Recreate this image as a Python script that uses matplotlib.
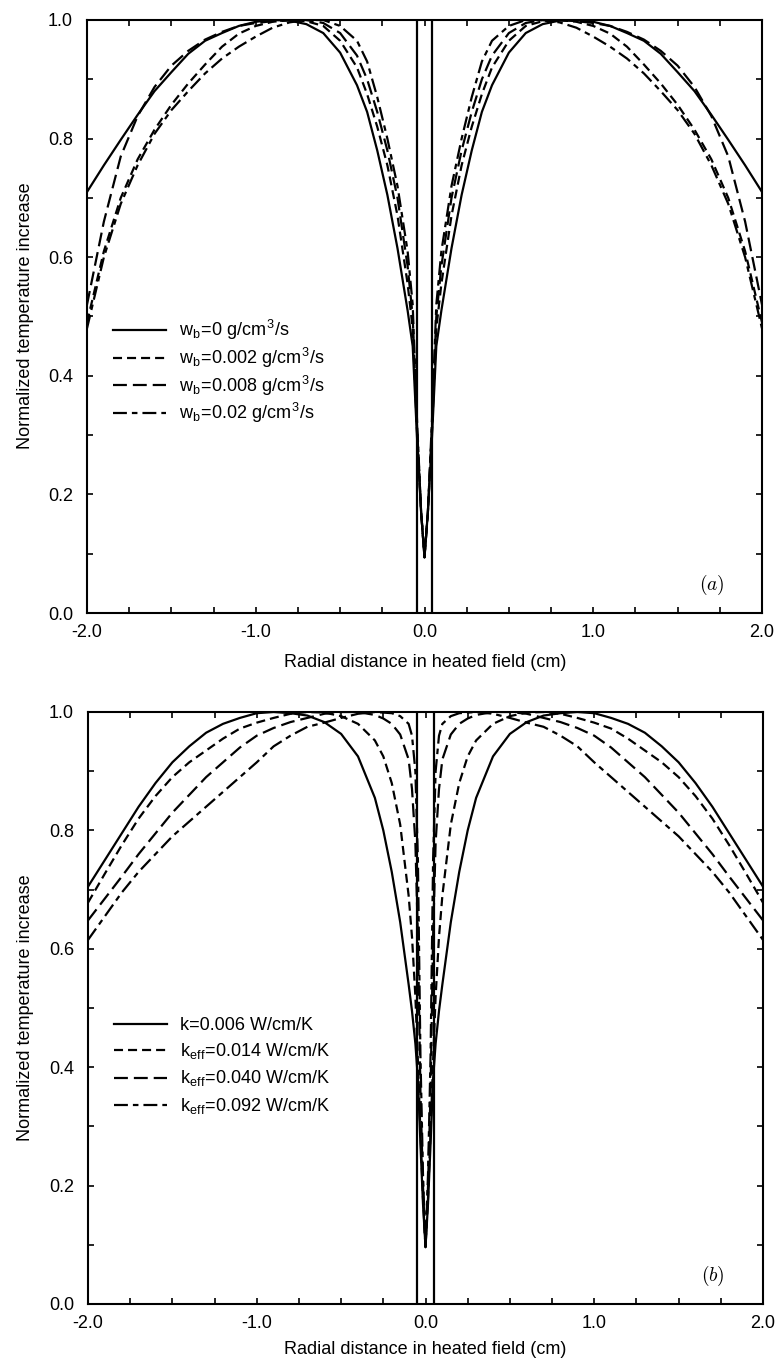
import numpy as np
import matplotlib
matplotlib.use("Agg")
import matplotlib.pyplot as plt
from matplotlib.ticker import MultipleLocator, FixedLocator

plt.rcParams['font.family'] = ['Liberation Sans', 'DejaVu Sans']
plt.rcParams['mathtext.fontset'] = 'cm'
plt.rcParams['lines.scale_dashes'] = False

# ---------------- data: panel (a), right half (profiles are symmetric) ----------------
x_a = [0.0, 0.02, 0.045, 0.07, 0.1, 0.16, 0.22, 0.28, 0.34, 0.4, 0.5, 0.6, 0.7,
       0.8, 0.9, 1.0, 1.1, 1.2, 1.3, 1.4, 1.5, 1.6, 1.7, 1.8, 1.9, 2.0]
a_w0 = [0.094, 0.17, 0.30, 0.45, 0.51, 0.615, 0.705, 0.78, 0.845, 0.89, 0.945, 0.978, 0.993,
        0.999, 1.0, 0.997, 0.99, 0.978, 0.965, 0.943, 0.912, 0.88, 0.84, 0.798, 0.755, 0.71]
a_w002 = [0.094, 0.17, 0.31, 0.48, 0.555, 0.67, 0.755, 0.82, 0.875, 0.92, 0.965, 0.99, 0.998,
          1.0, 0.997, 0.99, 0.977, 0.955, 0.925, 0.893, 0.857, 0.815, 0.765, 0.70, 0.61, 0.49]
a_w008 = [0.094, 0.17, 0.32, 0.50, 0.585, 0.70, 0.78, 0.845, 0.90, 0.94, 0.978, 0.995, 1.0,
          1.0, 0.998, 0.995, 0.99, 0.98, 0.967, 0.948, 0.923, 0.887, 0.838, 0.77, 0.66, 0.52]
a_w02 = [0.094, 0.17, 0.33, 0.52, 0.61, 0.72, 0.80, 0.87, 0.93, 0.965, 0.99, 1.0, 1.0,
         0.996, 0.987, 0.972, 0.955, 0.935, 0.91, 0.88, 0.848, 0.808, 0.755, 0.69, 0.60, 0.48]
labels_a = [r'w$_\mathregular{b}$=0 g/cm$^\mathregular{3}$/s',
            r'w$_\mathregular{b}$=0.002 g/cm$^\mathregular{3}$/s',
            r'w$_\mathregular{b}$=0.008 g/cm$^\mathregular{3}$/s',
            r'w$_\mathregular{b}$=0.02 g/cm$^\mathregular{3}$/s']
probe_a = 0.045

# ---------------- data: panel (b), right half ----------------
x_b = [0.0, 0.015, 0.03, 0.045, 0.06, 0.08, 0.1, 0.15, 0.2, 0.25, 0.3, 0.4, 0.5, 0.6, 0.7,
       0.8, 0.9, 1.0, 1.1, 1.2, 1.3, 1.4, 1.5, 1.6, 1.7, 1.8, 1.9, 2.0]
b_k006 = [0.096, 0.17, 0.27, 0.38, 0.44, 0.495, 0.54, 0.645, 0.73, 0.80, 0.855, 0.925, 0.963,
          0.983, 0.994, 0.998, 1.0, 0.998, 0.99, 0.98, 0.965, 0.942, 0.915, 0.88, 0.84, 0.795,
          0.75, 0.705]
b_k014 = [0.096, 0.18, 0.29, 0.41, 0.52, 0.62, 0.69, 0.81, 0.88, 0.925, 0.952, 0.98, 0.993,
          0.999, 1.0, 0.997, 0.99, 0.982, 0.972, 0.955, 0.935, 0.915, 0.89, 0.858, 0.82, 0.775,
          0.727, 0.678]
b_k040 = [0.096, 0.2, 0.36, 0.62, 0.78, 0.87, 0.92, 0.962, 0.98, 0.989, 0.995, 1.0, 1.0,
          0.997, 0.99, 0.983, 0.973, 0.96, 0.94, 0.915, 0.89, 0.86, 0.83, 0.795, 0.76, 0.722,
          0.685, 0.648]
b_k092 = [0.096, 0.22, 0.42, 0.75, 0.90, 0.96, 0.98, 0.993, 0.998, 0.999, 1.0, 0.997, 0.99,
          0.982, 0.975, 0.96, 0.942, 0.915, 0.89, 0.865, 0.84, 0.815, 0.79, 0.76, 0.73, 0.695,
          0.655, 0.615]
labels_b = [r'k=0.006 W/cm/K',
            r'k$_\mathregular{eff}$=0.014 W/cm/K',
            r'k$_\mathregular{eff}$=0.040 W/cm/K',
            r'k$_\mathregular{eff}$=0.092 W/cm/K']
probe_b = 0.05

x_ticklabels = ['-2.0', '-1.0', '0.0', '1.0', '2.0']
y_ticklabels = ['0.0', '0.2', '0.4', '0.6', '0.8', '1.0']

styles = ['-', (0, (6.5, 3.6)), (0, (10, 4.3)), (0, (10, 3.6, 4.0, 3.6))]


def full(xh, yh):
    xh = np.asarray(xh); yh = np.asarray(yh)
    return np.r_[-xh[:0:-1], xh], np.r_[yh[:0:-1], yh]


W, H = 780, 1366
fig = plt.figure(figsize=(W / 100, H / 100), dpi=100)
ax1 = fig.add_axes([87 / W, 1 - 613 / H, 675 / W, 593 / H])
ax2 = fig.add_axes([88 / W, 1 - 1304 / H, 675 / W, 592 / H])


def setup(ax, xh, series, labels, probe, tag, leg_y, spacing):
    for ys, ls, lab in zip(series, styles, labels):
        xx, yy = full(xh, ys)
        ax.plot(xx, yy, color='black', lw=1.6, linestyle=ls, label=lab)
    for p in (-probe, probe):
        ax.axvline(p, color='black', lw=1.6)
    ax.set_xlim(-2, 2)
    ax.set_ylim(0, 1)
    ax.xaxis.set_major_locator(FixedLocator([-2, -1, 0, 1, 2]))
    ax.set_xticklabels(x_ticklabels)
    ax.xaxis.set_minor_locator(MultipleLocator(0.25))
    ax.yaxis.set_major_locator(FixedLocator([0, 0.2, 0.4, 0.6, 0.8, 1.0]))
    ax.set_yticklabels(y_ticklabels)
    ax.yaxis.set_minor_locator(MultipleLocator(0.1))
    ax.tick_params(which='both', direction='in', top=True, right=True,
                   length=4, width=1.2, labelsize=13)
    ax.tick_params(axis='x', pad=8)
    ax.tick_params(axis='y', pad=10)
    for s in ax.spines.values():
        s.set_linewidth(1.5)
    ax.text(0.925, 0.048, tag, transform=ax.transAxes, fontsize=14,
            ha='center', va='center')
    ax.legend(loc='upper left', bbox_to_anchor=(0.038, leg_y), frameon=False,
              fontsize=13, handlelength=2.95, handletextpad=0.7,
              labelspacing=spacing, borderaxespad=0, borderpad=0)


setup(ax1, x_a, [a_w0, a_w002, a_w008, a_w02], labels_a, probe_a, r'$(a)$', 0.497, 0.2)
setup(ax2, x_b, [b_k006, b_k014, b_k040, b_k092], labels_b, probe_b, r'$(b)$', 0.485, 0.42)

for yc in (663, 1350):
    fig.text(425 / W, 1 - yc / H, 'Radial distance in heated field (cm)',
             ha='center', va='center', fontsize=13)
for yc in (316, 1008):
    fig.text(26 / W, 1 - yc / H, 'Normalized temperature increase',
             ha='center', va='center', rotation=90, fontsize=13)

fig.savefig('out.png', dpi=100)
